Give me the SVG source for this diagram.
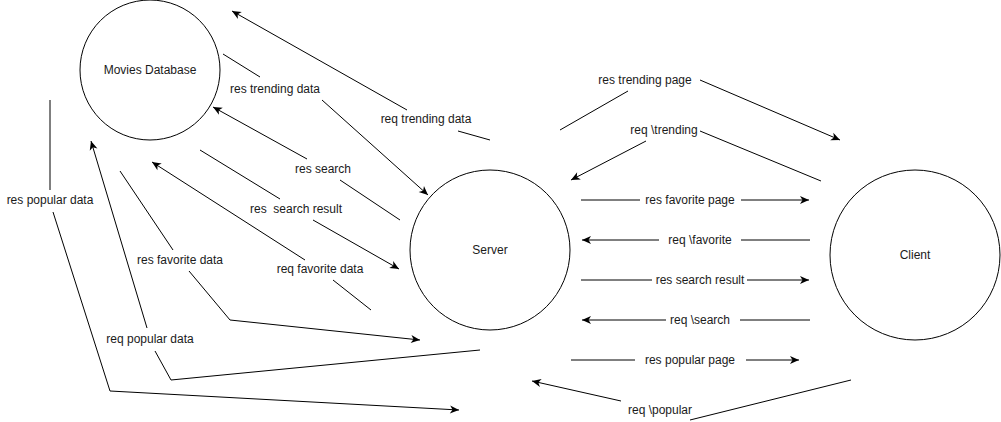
<svg xmlns="http://www.w3.org/2000/svg" width="1001" height="422" viewBox="0 0 1001 422">
<style>
.node{fill:#ffffff;stroke:#000000;stroke-width:1}
.edge{fill:none;stroke:#000000;stroke-width:1;marker-end:url(#arr)}
text{font-family:"Liberation Sans",Arial,sans-serif;font-size:12px;fill:#1a1a1a;text-anchor:middle}
</style>
<defs>
<marker id="arr" markerUnits="userSpaceOnUse" markerWidth="12" markerHeight="10" viewBox="-10 -5 12 10" refX="0" refY="0" orient="auto">
<path d="M0,0 L-9,-4 L-6.5,0 L-9,4 Z" fill="#000000"/>
</marker>
</defs>
<rect width="1001" height="422" fill="#ffffff"/>
<g id="nodes">
<g id="movies-database"><circle class="node" cx="150" cy="70" r="70"/><text x="150" y="74">Movies Database</text></g>
<g id="server"><circle class="node" cx="490" cy="250" r="80"/><text x="490" y="254">Server</text></g>
<g id="client"><circle class="node" cx="915" cy="255" r="85"/><text x="915" y="259">Client</text></g>
</g>
<g id="connectors">
<g id="e-req-trending-data"><path class="edge" d="M490,140 L458,131 M407,110 L232,11"/><text x="426" y="123">req trending data</text></g>
<g id="e-res-trending-data"><path class="edge" d="M223,54 L260,77 M322,100 L428,195"/><text x="275" y="93">res trending data</text></g>
<g id="e-res-search"><path class="edge" d="M400,220 L340,180 M307,159 L213,107"/><text x="323" y="173">res search</text></g>
<g id="e-res-search-result-db"><path class="edge" d="M200,150 L280,199 M313,220 L399,269"/><text x="296" y="213" xml:space="preserve">res  search result</text></g>
<g id="e-req-favorite-data"><path class="edge" d="M371,310 L333,280 M305,260 L152,162"/><text x="320" y="273">req favorite data</text></g>
<g id="e-res-favorite-data"><path class="edge" d="M120,171 L173,250 M189,271 L230,320 L420,340"/><text x="180" y="264">res favorite data</text></g>
<g id="e-req-popular-data"><path class="edge" d="M480,350 L171,380 L155,351 M147,328 L91,141"/><text x="150" y="343">req popular data</text></g>
<g id="e-res-popular-data"><path class="edge" d="M50,100 L50,190 M53,212 L110,391 L459,410"/><text x="50" y="204">res popular data</text></g>
<g id="e-res-trending-page"><path class="edge" d="M560,130 L628,91 M700,80 L840,140"/><text x="645" y="84">res trending page</text></g>
<g id="e-req-trending"><path class="edge" d="M821,181 L700,131 M646,141 L571,180"/><text x="664" y="134">req \trending</text></g>
<g id="e-res-favorite-page"><path class="edge" d="M581,200 L640,200 M741,200 L809,200"/><text x="690" y="204">res favorite page</text></g>
<g id="e-req-favorite"><path class="edge" d="M810,240 L741,240 M659,240 L582,240"/><text x="700" y="244">req \favorite</text></g>
<g id="e-res-search-result"><path class="edge" d="M581,280 L652,280 M747,280 L809,280"/><text x="700" y="284">res search result</text></g>
<g id="e-req-search"><path class="edge" d="M810,320 L740,320 M666,320 L582,320"/><text x="700" y="324">req \search</text></g>
<g id="e-res-popular-page"><path class="edge" d="M571,360 L635,360 M746,360 L799,360"/><text x="690" y="364">res popular page</text></g>
<g id="e-req-popular"><path class="edge" d="M851,380 L690,420 M621,401 L532,381"/><text x="660" y="414">req \popular</text></g>
</g>
</svg>
